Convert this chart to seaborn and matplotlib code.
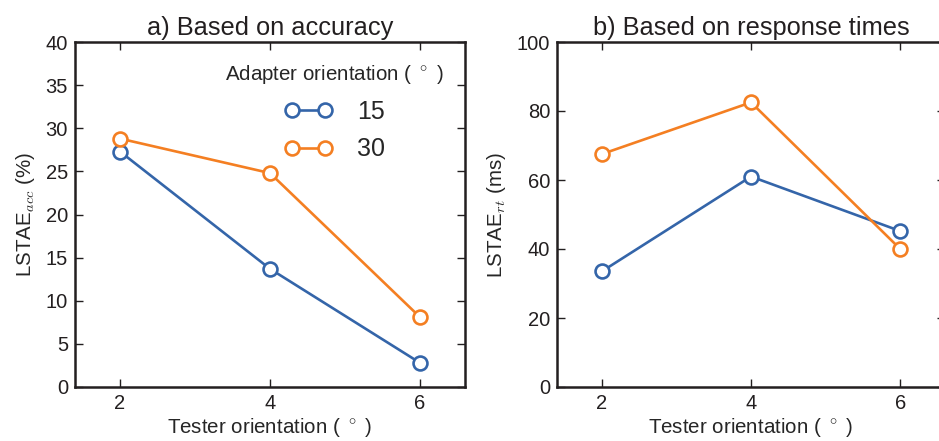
import numpy as np
import pandas as pd
import matplotlib
matplotlib.use("Agg")
import matplotlib.pyplot as plt
import seaborn as sns

# values
tester = [2, 4, 6]
acc_15 = [27.3, 13.7, 2.8]
acc_30 = [28.8, 24.8, 8.1]
rt_15 = [33.5, 61.0, 45.2]
rt_30 = [67.5, 82.5, 40.0]
adapters = ["15", "30"]

colors = {"15": "#3465a9", "30": "#f47f22"}

sns.set_style("ticks")
plt.rcParams["font.family"] = ["Liberation Sans", "DejaVu Sans"]
plt.rcParams["mathtext.fontset"] = "cm"

acc = pd.DataFrame({
    "tester": tester * 2,
    "value": acc_15 + acc_30,
    "adapter": ["15"] * 3 + ["30"] * 3,
})
rt = pd.DataFrame({
    "tester": tester * 2,
    "value": rt_15 + rt_30,
    "adapter": ["15"] * 3 + ["30"] * 3,
})

fig = plt.figure(figsize=(9.39, 4.41), dpi=100)
ax1 = fig.add_axes([75 / 939, 54 / 441, 390 / 939, 345 / 441])
ax2 = fig.add_axes([557 / 939, 54 / 441, 388 / 939, 345 / 441])

spine_col = "#231f20"

for ax, df, ylim, yticks, ylab, title in [
    (ax1, acc, (0, 40), np.arange(0, 41, 5), r"LSTAE$_{acc}$ (%)", "a) Based on accuracy"),
    (ax2, rt, (0, 100), np.arange(0, 101, 20), r"LSTAE$_{rt}$ (ms)", "b) Based on response times"),
]:
    sns.lineplot(data=df, x="tester", y="value", hue="adapter", hue_order=adapters,
                 palette=colors, marker="o", markersize=10, markerfacecolor="white",
                 markeredgewidth=1.9, linewidth=1.9, ax=ax, legend=(ax is ax1))
    for line in ax.lines:
        line.set_markeredgecolor(line.get_color())
    ax.set_xlim(1.4, 6.6)
    ax.set_ylim(*ylim)
    ax.set_xticks(tester)
    ax.set_yticks(yticks)
    ax.set_xlabel("Tester orientation ( $^\\circ$ )", fontsize=14.8, labelpad=2)
    ax.set_ylabel(ylab, fontsize=14.8, labelpad=6)
    ax.set_title(title, fontsize=18.3, pad=5, color="#231f20")
    ax.tick_params(direction="in", top=True, right=True, length=6, width=1,
                   labelsize=14.5, colors=spine_col, pad=5)
    for s in ax.spines.values():
        s.set_linewidth(1.8)
        s.set_color(spine_col)
        s.set_visible(True)

handles, labels = ax1.get_legend_handles_labels()
for h in handles:
    h.set_markeredgecolor(h.get_color())
    h.set_markerfacecolor("white")
ax1.legend(handles, labels, title="Adapter orientation ( $^\\circ$ )", loc="upper right",
           bbox_to_anchor=(1.005, 1.005), frameon=False, numpoints=2, fontsize=18,
           title_fontsize=14.8, handlelength=1.9, handletextpad=1.0, labelspacing=0.55)

fig.savefig("out.png", dpi=100)
